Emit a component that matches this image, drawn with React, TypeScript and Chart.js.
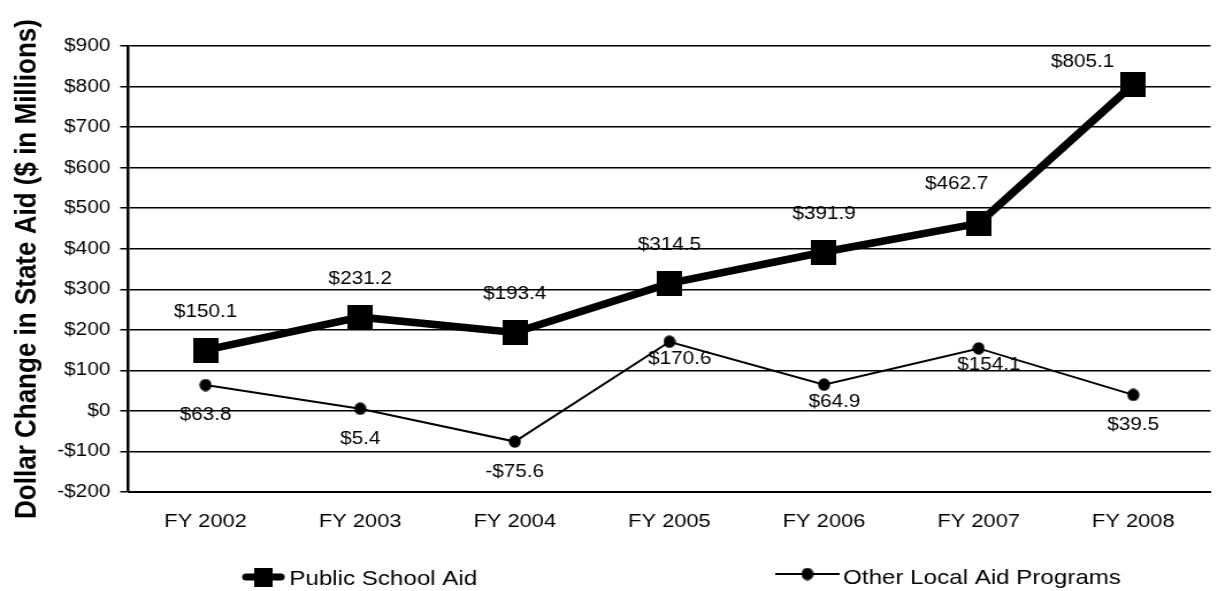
import React, { useEffect, useRef } from 'react';
import { Chart, registerables } from 'chart.js';

Chart.register(...registerables);

// ---- Data ----
const categories = ['FY 2002', 'FY 2003', 'FY 2004', 'FY 2005', 'FY 2006', 'FY 2007', 'FY 2008'];
const publicSchoolAid = [150.1, 231.2, 193.4, 314.5, 391.9, 462.7, 805.1];
const otherLocalAid = [63.8, 5.4, -75.6, 170.6, 64.9, 154.1, 39.5];
const seriesNames = ['Public School Aid', 'Other Local Aid Programs'];
const yMin = -200;
const yMax = 900;
const yStep = 100;
const yTitle = 'Dollar Change in State Aid ($ in Millions)';
// where each value label sits relative to its point
const publicLabelPlacement = ['above', 'above', 'above', 'above', 'above', 'aboveLeft', 'left'];
const otherLabelPlacement = ['below', 'below', 'below', 'belowRight', 'belowRight', 'belowRight', 'below'];

// ---- Layout / style ----
const SX = 1.15; // the reference is horizontally stretched
const LOGICAL_W = 1072;
const H = 591;
const FAMILY = "'Liberation Sans', Arial, Helvetica, sans-serif";

const placementOffset: Record<string, [number, number]> = {
  above: [0, -38],
  aboveLeft: [-19, -39],
  left: [-44, -22],
  below: [0, 30],
  belowRight: [9, 17],
};

const money1 = (v: number) => (v < 0 ? '-' : '') + '$' + Math.abs(v).toFixed(1);
const money0 = (v: number) => (v < 0 ? '-' : '') + '$' + Math.abs(v);

function makeRect(w: number, h: number) {
  const c = document.createElement('canvas');
  c.width = w;
  c.height = h;
  const g = c.getContext('2d')!;
  g.fillStyle = '#000';
  g.fillRect(0, 0, w, h);
  return c;
}

function makeEllipse(w: number, h: number) {
  const c = document.createElement('canvas');
  c.width = w;
  c.height = h;
  const g = c.getContext('2d')!;
  g.fillStyle = '#000';
  g.beginPath();
  g.ellipse(w / 2, h / 2, w / 2 - 0.3, h / 2 - 0.3, 0, 0, Math.PI * 2);
  g.fill();
  return c;
}

export default function App() {
  const ref = useRef<HTMLCanvasElement | null>(null);

  useEffect(() => {
    if (!ref.current) return;
    const square = makeRect(22, 25);
    const dot = makeEllipse(11, 13);
    const legendSquare = makeRect(16, 19);

    const labelPlugin = {
      id: 'valueLabels',
      afterDatasetsDraw(chart: any) {
        const ctx = chart.ctx;
        ctx.save();
        ctx.font = `18px ${FAMILY}`;
        ctx.fillStyle = '#000';
        ctx.textAlign = 'center';
        ctx.textBaseline = 'middle';
        const sets = [
          { values: publicSchoolAid, place: publicLabelPlacement },
          { values: otherLocalAid, place: otherLabelPlacement },
        ];
        sets.forEach((s, di) => {
          const meta = chart.getDatasetMeta(di);
          meta.data.forEach((pt: any, i: number) => {
            const [dx, dy] = placementOffset[s.place[i]] || [0, 0];
            ctx.fillText(money1(s.values[i]), pt.x + dx, pt.y + dy);
          });
        });
        ctx.restore();
      },
      afterDraw(chart: any) {
        const ctx = chart.ctx;
        ctx.save();
        // Public School Aid legend entry
        const y1 = 577;
        ctx.strokeStyle = '#000';
        ctx.lineCap = 'round';
        ctx.lineWidth = 7;
        ctx.beginPath();
        ctx.moveTo(214, y1);
        ctx.lineTo(244, y1);
        ctx.stroke();
        ctx.drawImage(legendSquare, 229 - 8, y1 - 9.5);
        ctx.font = `21px ${FAMILY}`;
        ctx.fillStyle = '#000';
        ctx.textAlign = 'left';
        ctx.textBaseline = 'alphabetic';
        ctx.fillText(seriesNames[0], 251.5, 585);
        // Other Local Aid Programs legend entry
        const y2 = 574;
        ctx.lineCap = 'butt';
        ctx.lineWidth = 2;
        ctx.beginPath();
        ctx.moveTo(674, y2);
        ctx.lineTo(730, y2);
        ctx.stroke();
        ctx.drawImage(dot, 702 - 5.5, y2 - 6.5);
        ctx.fillText(seriesNames[1], 733, 584);
        ctx.restore();
      },
    };

    const chart = new Chart(ref.current, {
      type: 'line',
      data: {
        labels: categories,
        datasets: [
          {
            label: seriesNames[0],
            data: publicSchoolAid,
            borderColor: '#000',
            backgroundColor: '#000',
            borderWidth: 7.5,
            pointStyle: square as any,
            pointRadius: 12,
            tension: 0,
            fill: false,
          },
          {
            label: seriesNames[1],
            data: otherLocalAid,
            borderColor: '#000',
            backgroundColor: '#000',
            borderWidth: 2,
            pointStyle: dot as any,
            pointRadius: 6,
            tension: 0,
            fill: false,
          },
        ],
      },
      options: {
        responsive: false,
        animation: false,
        devicePixelRatio: 1,
        layout: { padding: { top: 46, left: 0, right: 0, bottom: 0 } },
        plugins: {
          legend: { display: false },
          tooltip: { enabled: false },
          title: { display: false },
        },
        scales: {
          x: {
            type: 'category',
            offset: true,
            grid: { display: false, drawTicks: false },
            border: { display: true, color: '#000', width: 2 },
            ticks: {
              color: '#000',
              font: { size: 19, family: FAMILY },
              padding: 18,
              autoSkip: false,
              maxRotation: 0,
            },
            afterFit: (s: any) => {
              s.height = 99;
            },
          },
          y: {
            min: yMin,
            max: yMax,
            ticks: {
              stepSize: yStep,
              color: '#000',
              font: { size: 18, family: FAMILY },
              padding: 8.6,
              callback: (v: any) => money0(Number(v)),
            },
            grid: { color: '#000', lineWidth: 1.5, tickLength: 7, tickColor: '#000' },
            border: { display: true, color: '#000', width: 2.5 },
            title: {
              display: true,
              text: yTitle,
              color: '#000',
              font: { size: 26, weight: 'bold', family: FAMILY },
              padding: { top: 8, bottom: 0 },
            },
            afterFit: (s: any) => {
              s.width = 111.5;
            },
          },
        },
      },
      plugins: [labelPlugin],
    });
    return () => chart.destroy();
  }, []);

  return (
    <div
      style={{
        position: 'fixed',
        left: 0,
        top: 0,
        width: 1222,
        height: H,
        overflow: 'hidden',
        background: '#fff',
      }}
    >
      <canvas
        ref={ref}
        width={LOGICAL_W}
        height={H}
        style={{ width: `${Math.round(LOGICAL_W * SX)}px`, height: `${H}px`, display: 'block' }}
      />
    </div>
  );
}
